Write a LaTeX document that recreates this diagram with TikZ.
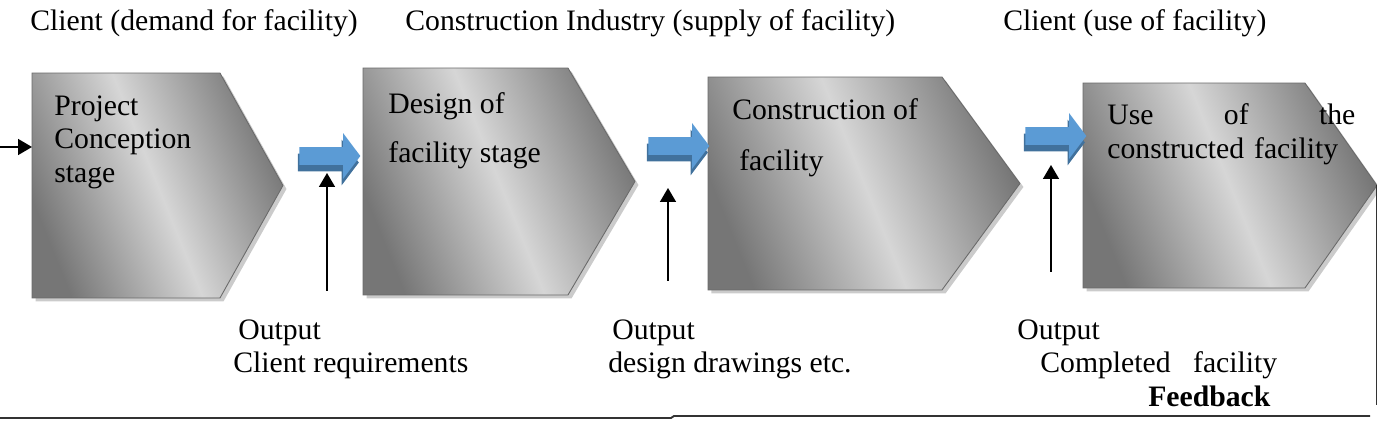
\documentclass[tikz,border=0pt]{standalone}
\usepackage{fontspec}
\setmainfont{Liberation Serif}
\usetikzlibrary{arrows.meta,positioning,shapes.symbols,shapes.arrows,shadows}

\definecolor{stagedark}{HTML}{767676}
\definecolor{stagelight}{HTML}{D6D6D6}
\definecolor{stageline}{HTML}{6A6A6A}
\definecolor{stageshadow}{HTML}{CBCBCB}
\definecolor{flowblue}{HTML}{5B9BD5}
\definecolor{flowdark}{HTML}{41719C}
\definecolor{fbgray}{HTML}{333333}

\begin{document}
\begin{tikzpicture}[
  x=0.02cm,y=-0.02cm,
  every node/.style={font=\fontsize{16.9}{19.3}\selectfont},
  stage/.style={signal,signal to=east,signal from=nowhere,draw=stageline,line width=0.5pt,
    left color=stagedark,right color=stagedark,middle color=stagelight,shading angle=112,
    drop shadow={shadow xshift=0.07cm,shadow yshift=-0.07cm,fill=stageshadow,opacity=1},
    inner sep=0pt,outer sep=0pt},
  txt/.style={align=left,inner sep=0pt,anchor=north west},
  head/.style={anchor=base west,inner sep=0pt},
  flow/.style={single arrow,fill=flowblue,draw=none,inner xsep=0pt,inner ysep=0.17cm,
    text height=0pt,text depth=0pt,minimum height=1.22cm,
    single arrow head extend=0.28cm,single arrow tip angle=106,
    drop shadow={shadow xshift=-0.03cm,shadow yshift=-0.13cm,fill=flowdark,opacity=1}},
  outarr/.style={-{Triangle[length=0.28cm,width=0.32cm]},line width=0.9pt},
  fbline/.style={draw=fbgray,line width=1.1pt}
]
\useasboundingbox (0,0) rectangle (1377,425);

% stages
\node[stage,minimum width=5.02cm,minimum height=4.5cm,signal pointer angle=121.5] (s1) at (126,185.5) {};
\node[stage,minimum width=5.44cm,minimum height=4.54cm,signal pointer angle=118.9] (s2) at (465.5,181.5) {};
\node[stage,minimum width=6.24cm,minimum height=4.26cm,signal pointer angle=107.6] (s3) at (825,183.5) {};
\node[stage,minimum width=5.88cm,minimum height=4.1cm,signal pointer angle=109.8] (s4) at (1194,185.5) {};

\node[txt,below right=0.44cm and 0.44cm of s1.north west] (t1) {Project\\Conception\\stage};
\node[txt,below right=0.48cm and 0.5cm of s2.north west] (t2) {Design of\\[9pt]facility stage};
\node[txt,below right=0.42cm and 0.48cm of s3.north west] (t3) {Construction of\\[10pt]\hspace*{0.14cm}facility};
\node[txt,text width=4.96cm,below right=0.4cm and 0.48cm of s4.north west] (t4) {Use\hfill of\hfill the\\constructed facility};

% who is involved
\node[head] (c1) at (30,31) {Client (demand for facility)};
\node[head] (c2) at (405,31) {Construction Industry (supply of facility)};
\node[head] (c3) at (1003,31) {Client (use of facility)};

% hand-over arrows
\node[flow] (a1) at (326.5,156) {};
\node[flow] (a2) at (675.5,146) {};
\node[flow] (a3) at (1052.5,136) {};

% outputs
\node[txt] (o1) at (233,319) {\hspace*{0.1cm}Output\\Client requirements};
\node[txt] (o2) at (608,319) {\hspace*{0.08cm}Output\\design drawings etc.};
\node[txt] (o3) at (1017,319) {Output\\\hspace*{0.46cm}Completed\hspace{0.45cm}facility\\\hspace*{2.62cm}\textbf{Feedback}};

\coordinate (b1) at (327,291); \coordinate (e1) at (327,173);
\coordinate (b2) at (668,281); \coordinate (e2) at (668,188);
\coordinate (b3) at (1051,272); \coordinate (e3) at (1051,165);
\draw[outarr] (b1) -- (e1);
\draw[outarr] (b2) -- (e2);
\draw[outarr] (b3) -- (e3);

\coordinate (ent) at (0,147);
\draw[outarr] (ent) -- (ent -| s1.west);

% feedback loop
\coordinate (fb0) at (0,418); \coordinate (fb1) at (671,418);
\coordinate (fb2) at (674,416); \coordinate (fb3) at (1370,416);
\coordinate (fbup) at (1376,405);
\draw[fbline] (fb0) -- (fb1) -- (fb2) -- (fb3);
\draw[fbline] (s4.east) -- (s4.east |- fbup);
\end{tikzpicture}
\end{document}
